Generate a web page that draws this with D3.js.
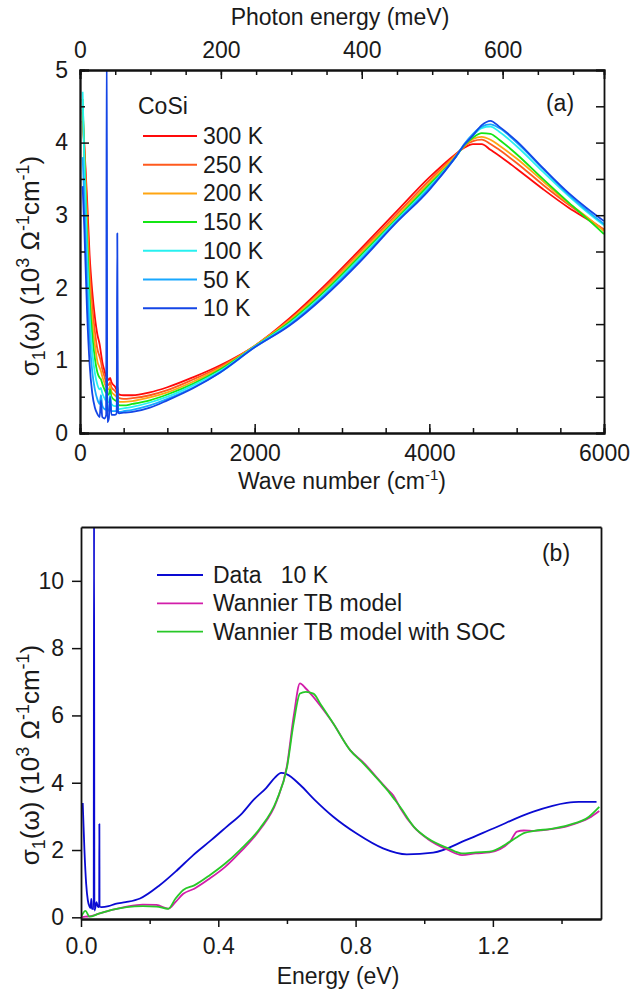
<!DOCTYPE html>
<html>
<head>
<meta charset="utf-8">
<script src="https://cdn.jsdelivr.net/npm/d3@7"></script>
<style>
  body { margin: 0; background: #fff; }
  svg text { font-family: "Liberation Sans", Arial, sans-serif; fill: #1a1a1a; }
</style>
</head>
<body>
<svg id="chart" width="631" height="992"></svg>
<script>
// ---- panel (a): sigma_1 of CoSi vs wave number, 7 temperatures ----
const waveNumber = [30, 50, 80, 110, 140, 170, 200, 225, 240, 255, 280, 300, 306, 312, 330, 345, 360, 400, 420, 427, 434, 450,
  500, 600, 800, 1000, 1300, 1600, 2000, 2400, 2800, 3200, 3600, 4000, 4300, 4400, 4500, 4600, 4700, 4800, 5000, 5300, 5600, 5800, 6000];

const temperatures = ["300 K", "250 K", "200 K", "150 K", "100 K", "50 K", "10 K"];
const tempColors = ["#ff0a0a", "#ff5a1e", "#ffa512", "#14e614", "#28f0f0", "#18a8ff", "#1446e6"];

const sigma300K = [4.30, 3.95, 3.25, 2.45, 1.95, 1.60, 1.35, 1.22, 1.10, 0.98, 0.86, 0.78, 0.80, 0.76, 0.73, 0.76, 0.70, 0.64, 0.60, 0.64, 0.56, 0.53,
  0.52, 0.52, 0.56, 0.63, 0.77, 0.93, 1.20, 1.58, 2.03, 2.52, 3.02, 3.52, 3.84, 3.93, 3.98, 3.98, 3.90, 3.82, 3.64, 3.36, 3.10, 2.95, 2.80];
const sigma250K = [4.45, 3.95, 3.05, 2.25, 1.75, 1.40, 1.15, 1.05, 0.98, 0.88, 0.78, 0.70, 0.74, 0.68, 0.66, 0.70, 0.63, 0.58, 0.55, 0.60, 0.51, 0.48,
  0.47, 0.48, 0.52, 0.59, 0.74, 0.91, 1.20, 1.56, 2.00, 2.49, 2.98, 3.48, 3.83, 3.95, 4.02, 4.04, 3.98, 3.90, 3.72, 3.42, 3.14, 2.97, 2.80];
const sigma200K = [4.42, 3.85, 2.90, 2.05, 1.55, 1.22, 0.98, 0.90, 0.85, 0.78, 0.69, 0.63, 0.68, 0.60, 0.60, 0.65, 0.57, 0.52, 0.50, 0.56, 0.46, 0.43,
  0.43, 0.44, 0.49, 0.56, 0.71, 0.89, 1.20, 1.55, 1.98, 2.46, 2.95, 3.45, 3.82, 3.95, 4.05, 4.08, 4.04, 3.96, 3.78, 3.47, 3.16, 2.98, 2.78];
const sigma150K = [4.60, 3.80, 2.70, 1.85, 1.35, 1.03, 0.83, 0.76, 0.74, 0.68, 0.60, 0.55, 0.62, 0.53, 0.53, 0.60, 0.50, 0.45, 0.44, 0.52, 0.41, 0.38,
  0.38, 0.40, 0.45, 0.53, 0.68, 0.87, 1.19, 1.53, 1.95, 2.43, 2.92, 3.42, 3.80, 3.96, 4.07, 4.13, 4.12, 4.04, 3.84, 3.50, 3.17, 2.96, 2.74];
const sigma100K = [4.70, 3.70, 2.50, 1.62, 1.12, 0.83, 0.66, 0.60, 0.62, 0.55, 0.48, 0.44, 0.55, 0.42, 0.43, 0.52, 0.40, 0.37, 0.37, 0.48, 0.35, 0.33,
  0.34, 0.36, 0.42, 0.50, 0.66, 0.85, 1.19, 1.51, 1.92, 2.40, 2.90, 3.39, 3.80, 3.97, 4.10, 4.20, 4.22, 4.15, 3.95, 3.60, 3.26, 3.05, 2.86];
const sigma50K = [3.80, 3.20, 2.10, 1.30, 0.85, 0.60, 0.46, 0.40, 0.52, 0.38, 0.33, 0.32, 0.60, 0.30, 0.32, 0.45, 0.30, 0.30, 0.31, 0.50, 0.30, 0.29,
  0.30, 0.32, 0.38, 0.47, 0.63, 0.83, 1.18, 1.49, 1.90, 2.37, 2.88, 3.37, 3.80, 3.98, 4.12, 4.22, 4.25, 4.20, 4.00, 3.64, 3.28, 3.07, 2.88];
const sigma10K = [3.40, 2.80, 1.70, 0.95, 0.55, 0.35, 0.26, 0.22, 0.45, 0.22, 0.20, 0.25, 5.60, 0.15, 0.20, 0.50, 0.25, 0.25, 0.27, 2.75, 0.30, 0.27,
  0.28, 0.29, 0.35, 0.45, 0.62, 0.83, 1.18, 1.48, 1.88, 2.35, 2.87, 3.35, 3.80, 3.97, 4.10, 4.24, 4.30, 4.22, 4.02, 3.65, 3.30, 3.10, 2.92];
const sigmaByTemp = [sigma300K, sigma250K, sigma200K, sigma150K, sigma100K, sigma50K, sigma10K];

// ---- panel (b): data at 10 K vs Wannier tight-binding model ----
const energyData = [0.005, 0.01, 0.015, 0.02, 0.025, 0.028, 0.03, 0.032, 0.037, 0.038, 0.039, 0.042, 0.045, 0.05, 0.053, 0.0535, 0.054, 0.06,
  0.08, 0.1, 0.13, 0.172, 0.23, 0.28, 0.327, 0.38, 0.424, 0.47, 0.502, 0.54, 0.565, 0.583, 0.6, 0.638, 0.68, 0.735, 0.803, 0.88,
  0.949, 1.026, 1.123, 1.201, 1.318, 1.415, 1.45, 1.502];
const sigmaData10K = [3.40, 2.00, 1.00, 0.50, 0.32, 0.28, 0.55, 0.25, 0.25, 12.0, 0.20, 0.30, 0.45, 0.30, 0.32, 2.77, 0.32, 0.30,
  0.33, 0.40, 0.45, 0.56, 0.96, 1.40, 1.85, 2.30, 2.69, 3.10, 3.48, 3.85, 4.15, 4.29, 4.25, 3.94, 3.50, 2.99, 2.49, 2.05,
  1.87, 1.92, 2.30, 2.64, 3.14, 3.40, 3.43, 3.43];

const energyModel = [0, 0.013, 0.025, 0.05, 0.09, 0.133, 0.18, 0.22, 0.254, 0.275, 0.298, 0.33, 0.376, 0.42, 0.463, 0.521, 0.57, 0.6, 0.62,
  0.638, 0.655, 0.677, 0.7, 0.735, 0.784, 0.823, 0.871, 0.895, 0.91, 0.93, 0.97, 1.01, 1.07, 1.11, 1.15, 1.19, 1.25, 1.27, 1.29,
  1.32, 1.37, 1.42, 1.48, 1.51];
const sigmaWannier = [0.00, 0.02, 0.03, 0.10, 0.22, 0.32, 0.38, 0.37, 0.26, 0.45, 0.70, 0.85, 1.16, 1.50, 1.93, 2.60, 3.45, 4.50, 6.00,
  6.95, 6.80, 6.55, 6.25, 5.76, 4.97, 4.60, 4.05, 3.78, 3.62, 3.25, 2.68, 2.33, 2.00, 1.85, 1.90, 1.93, 2.25, 2.55, 2.58,
  2.57, 2.62, 2.72, 2.95, 3.16];
const sigmaWannierSOC = [0.00, 0.19, 0.02, 0.10, 0.22, 0.30, 0.33, 0.32, 0.25, 0.55, 0.81, 0.95, 1.26, 1.60, 2.00, 2.64, 3.48, 4.45, 5.80,
  6.65, 6.70, 6.65, 6.30, 5.76, 4.97, 4.57, 4.03, 3.75, 3.55, 3.28, 2.69, 2.35, 2.05, 1.90, 1.93, 1.95, 2.25, 2.38, 2.50,
  2.57, 2.63, 2.74, 2.99, 3.28];

const modelLabels = ["Data   10 K", "Wannier TB model", "Wannier TB model with SOC"];
const modelColors = ["#0a0ad2", "#d21eaa", "#28c828"];

const cmPerMeV = 8.0655;
const fontSize = 23;
const smallSize = 15;

const svg = d3.select("#chart");

// sigma_1(omega) (10^3 Ohm^-1 cm^-1) label with sub/superscripts
function sigmaLabel(g, cx, cy) {
  const big = 26, small = 18;
  const t = g.append("text")
    .attr("transform", `translate(${cx},${cy}) rotate(-90)`)
    .attr("text-anchor", "middle")
    .style("font-size", big + "px");
  t.append("tspan").text("σ");
  t.append("tspan").attr("dy", 6).style("font-size", small + "px").text("1");
  t.append("tspan").attr("dy", -6).text("(ω) (10");
  t.append("tspan").attr("dy", -10).style("font-size", small + "px").text("3");
  t.append("tspan").attr("dy", 10).text(" Ω");
  t.append("tspan").attr("dy", -10).style("font-size", small + "px").text("-1");
  t.append("tspan").attr("dy", 10).text("cm");
  t.append("tspan").attr("dy", -10).style("font-size", small + "px").text("-1");
  t.append("tspan").attr("dy", 10).text(")");
}

function styleAxis(g) {
  g.selectAll(".domain").attr("stroke", "#111").attr("stroke-width", 1.8);
  g.selectAll(".tick line").attr("stroke", "#111").attr("stroke-width", 1.5);
  g.selectAll("text").style("font-size", fontSize + "px").attr("fill", "#1a1a1a")
    .attr("font-family", "Liberation Sans, Arial, sans-serif");
}

// ================= panel (a) =================
const xA = d3.scaleLinear().domain([0, 6000]).range([80, 604]);
const yA = d3.scaleLinear().domain([0, 5]).range([433, 70]);
const xMeV = d3.scaleLinear().domain([0, 6000 / cmPerMeV]).range([80, 604]);

const panelA = svg.append("g");
panelA.append("clipPath").attr("id", "clipA").append("rect")
  .attr("x", 80).attr("y", 70).attr("width", 524).attr("height", 363);

const lineA = d3.line().curve(d3.curveMonotoneX).x((d, i) => xA(waveNumber[i])).y(d => yA(d));
panelA.append("g").attr("clip-path", "url(#clipA)")
  .selectAll("path").data(sigmaByTemp).join("path")
  .attr("d", d => lineA(d))
  .attr("fill", "none")
  .attr("stroke", (d, i) => tempColors[i])
  .attr("stroke-width", 1.8)
  .attr("stroke-linejoin", "round");

// bottom axis (wave number), ticks inside
panelA.append("g").attr("transform", "translate(0,433)")
  .call(d3.axisBottom(xA).tickValues(d3.range(0, 6001, 500)).tickSize(-5).tickFormat(""))
  .call(styleAxis);
panelA.append("g").attr("transform", "translate(0,433)")
  .call(d3.axisBottom(xA).tickValues([0, 2000, 4000, 6000]).tickSize(-9).tickPadding(12).tickFormat(d3.format("d")))
  .call(styleAxis);
// top axis (photon energy), ticks inside
panelA.append("g").attr("transform", "translate(0,70)")
  .call(d3.axisTop(xMeV).tickValues(d3.range(0, 741, 50)).tickSize(-5).tickFormat(""))
  .call(styleAxis);
panelA.append("g").attr("transform", "translate(0,70)")
  .call(d3.axisTop(xMeV).tickValues([0, 200, 400, 600]).tickSize(-9).tickPadding(12).tickFormat(d3.format("d")))
  .call(styleAxis);
// left and right axes
panelA.append("g").attr("transform", "translate(80,0)")
  .call(d3.axisLeft(yA).tickValues(d3.range(0.5, 5, 1)).tickSize(-5).tickFormat(""))
  .call(styleAxis);
panelA.append("g").attr("transform", "translate(80,0)")
  .call(d3.axisLeft(yA).tickValues([0, 1, 2, 3, 4, 5]).tickSize(-9).tickPadding(12).tickFormat(d3.format("d")))
  .call(styleAxis);
panelA.append("g").attr("transform", "translate(604,0)")
  .call(d3.axisRight(yA).tickValues(d3.range(0, 5.01, 0.5)).tickSize(-8).tickFormat(""))
  .call(styleAxis);

panelA.append("text").attr("x", 340).attr("y", 25).attr("text-anchor", "middle")
  .style("font-size", fontSize + "px").text("Photon energy (meV)");
const waveTitle = panelA.append("text").attr("x", 342).attr("y", 489).attr("text-anchor", "middle")
  .style("font-size", fontSize + "px");
waveTitle.append("tspan").text("Wave number (cm");
waveTitle.append("tspan").attr("dy", -9).style("font-size", smallSize + "px").text("-1");
waveTitle.append("tspan").attr("dy", 9).text(")");
sigmaLabel(panelA, 39, 266);

panelA.append("text").attr("x", 560).attr("y", 111).attr("text-anchor", "middle")
  .style("font-size", fontSize + "px").text("(a)");

// legend (a)
panelA.append("text").attr("x", 138).attr("y", 114).style("font-size", fontSize + "px").text("CoSi");
const legA = panelA.selectAll(".legA").data(temperatures).join("g")
  .attr("transform", (d, i) => `translate(0,${136 + i * 28.7})`);
legA.append("line").attr("x1", 143).attr("x2", 197)
  .attr("stroke", (d, i) => tempColors[i]).attr("stroke-width", 2);
legA.append("text").attr("x", 203).attr("y", 8).style("font-size", fontSize + "px").text(d => d);

// ================= panel (b) =================
const xB = d3.scaleLinear().domain([0, 1.515]).range([81, 601]);
const yB = d3.scaleLinear().domain([-0.05, 11.6]).range([919, 527]);

const panelB = svg.append("g");
panelB.append("clipPath").attr("id", "clipB").append("rect")
  .attr("x", 81).attr("y", 527).attr("width", 520).attr("height", 392);

const seriesB = [
  { x: energyData, y: sigmaData10K },
  { x: energyModel, y: sigmaWannier },
  { x: energyModel, y: sigmaWannierSOC }
];
const lineB = d3.line().curve(d3.curveMonotoneX).x(d => xB(d[0])).y(d => yB(d[1]));
panelB.append("g").attr("clip-path", "url(#clipB)")
  .selectAll("path").data(seriesB).join("path")
  .attr("d", s => lineB(s.x.map((e, i) => [e, s.y[i]])))
  .attr("fill", "none")
  .attr("stroke", (d, i) => modelColors[i])
  .attr("stroke-width", 1.8)
  .attr("stroke-linejoin", "round");

// frame: top and right plain
panelB.append("g").attr("transform", "translate(0,527)")
  .call(d3.axisTop(xB).tickValues([]).tickSizeOuter(0))
  .call(styleAxis);
panelB.append("g").attr("transform", "translate(601,0)")
  .call(d3.axisRight(yB).tickValues([]).tickSizeOuter(0))
  .call(styleAxis);
// bottom axis, ticks outside
panelB.append("g").attr("transform", "translate(0,919)")
  .call(d3.axisBottom(xB).tickValues([0.2, 0.6, 1.0, 1.4]).tickSize(5).tickSizeOuter(0).tickFormat(""))
  .call(styleAxis);
panelB.append("g").attr("transform", "translate(0,919)")
  .call(d3.axisBottom(xB).tickValues([0, 0.4, 0.8, 1.2]).tickSize(8).tickSizeOuter(0).tickPadding(11).tickFormat(d3.format(".1f")))
  .call(styleAxis);
panelB.append("g").attr("transform", "translate(81,0)")
  .call(d3.axisLeft(yB).tickValues([0, 2, 4, 6, 8, 10]).tickSize(9).tickSizeOuter(0).tickPadding(8))
  .call(styleAxis);

panelB.append("text").attr("x", 338).attr("y", 984).attr("text-anchor", "middle")
  .style("font-size", fontSize + "px").text("Energy (eV)");
sigmaLabel(panelB, 39, 755);

panelB.append("text").attr("x", 556).attr("y", 561).attr("text-anchor", "middle")
  .style("font-size", fontSize + "px").text("(b)");

// legend (b)
const legB = panelB.selectAll(".legB").data(modelLabels).join("g")
  .attr("transform", (d, i) => `translate(0,${575 + i * 28.3})`);
legB.append("line").attr("x1", 157).attr("x2", 203)
  .attr("stroke", (d, i) => modelColors[i]).attr("stroke-width", 1.8);
legB.append("text").attr("x", 213).attr("y", 8).style("font-size", fontSize + "px")
  .style("white-space", "pre").text(d => d);
</script>
</body>
</html>
